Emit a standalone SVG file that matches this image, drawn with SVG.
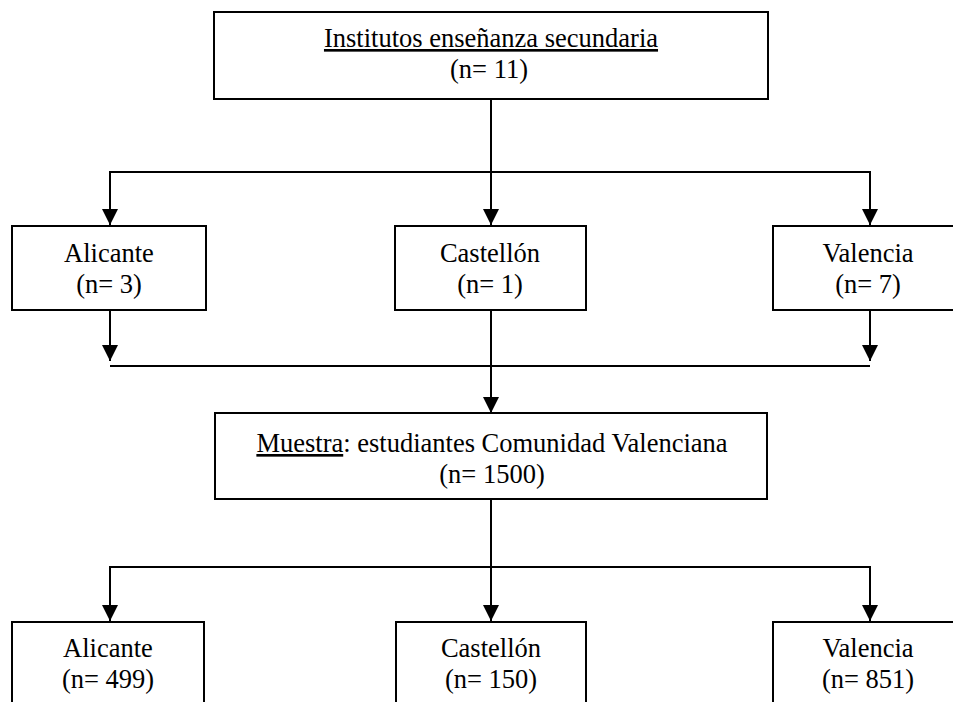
<svg xmlns="http://www.w3.org/2000/svg" width="953" height="702" viewBox="0 0 953 702">
<style>
.box{fill:#fff;stroke:#000;stroke-width:2}
.t{font-family:"Liberation Serif","Times New Roman",serif;font-size:26.5px;fill:#000;text-anchor:middle}
.c{fill:none;stroke:#000;stroke-width:2}
</style>
<defs>
<marker id="ah" markerUnits="userSpaceOnUse" markerWidth="16" markerHeight="16" refX="16" refY="8" orient="auto" viewBox="0 0 16 16">
<path d="M0,0 L16,8 L0,16 z" fill="#000"/>
</marker>
</defs>
<g id="connectors">
<path class="c" d="M491,99 V172 M110,172 H870"/>
<line class="c" x1="110" y1="171" x2="110" y2="225" marker-end="url(#ah)"/>
<line class="c" x1="491" y1="172" x2="491" y2="225" marker-end="url(#ah)"/>
<line class="c" x1="870" y1="171" x2="870" y2="225" marker-end="url(#ah)"/>
<line class="c" x1="110" y1="310" x2="110" y2="361" marker-end="url(#ah)"/>
<line class="c" x1="870" y1="310" x2="870" y2="361" marker-end="url(#ah)"/>
<path class="c" d="M110,366 H870"/>
<line class="c" x1="491" y1="310" x2="491" y2="413" marker-end="url(#ah)"/>
<path class="c" d="M491,499 V567 M110,567 H870"/>
<line class="c" x1="110" y1="566" x2="110" y2="621" marker-end="url(#ah)"/>
<line class="c" x1="491" y1="567" x2="491" y2="621" marker-end="url(#ah)"/>
<line class="c" x1="870" y1="566" x2="870" y2="621" marker-end="url(#ah)"/>
</g>
<g id="institutos">
<rect class="box" x="214" y="12" width="554" height="87"/>
<text class="t" x="491" y="47"><tspan text-decoration="underline">Institutos enseñanza secundaria</tspan></text>
<text class="t" x="489" y="78">(n= 11)</text>
</g>
<g id="alicante1">
<rect class="box" x="12" y="226" width="194" height="84"/>
<text class="t" x="109" y="262">Alicante</text>
<text class="t" x="109" y="293">(n= 3)</text>
</g>
<g id="castellon1">
<rect class="box" x="395" y="226" width="191" height="84"/>
<text class="t" x="490" y="262">Castellón</text>
<text class="t" x="490" y="293">(n= 1)</text>
</g>
<g id="valencia1">
<rect class="box" x="773" y="226" width="194" height="84"/>
<text class="t" x="868" y="262">Valencia</text>
<text class="t" x="868" y="293">(n= 7)</text>
</g>
<g id="muestra">
<rect class="box" x="215" y="413" width="552" height="86"/>
<text class="t" x="492" y="452"><tspan text-decoration="underline">Muestra</tspan>: estudiantes Comunidad Valenciana</text>
<text class="t" x="492" y="483">(n= 1500)</text>
</g>
<g id="alicante2">
<rect class="box" x="12" y="622" width="192" height="100"/>
<text class="t" x="108" y="657">Alicante</text>
<text class="t" x="108" y="688">(n= 499)</text>
</g>
<g id="castellon2">
<rect class="box" x="396" y="622" width="190" height="100"/>
<text class="t" x="491" y="657">Castellón</text>
<text class="t" x="491" y="688">(n= 150)</text>
</g>
<g id="valencia2">
<rect class="box" x="773" y="622" width="194" height="100"/>
<text class="t" x="868" y="657">Valencia</text>
<text class="t" x="868" y="688">(n= 851)</text>
</g>
</svg>
